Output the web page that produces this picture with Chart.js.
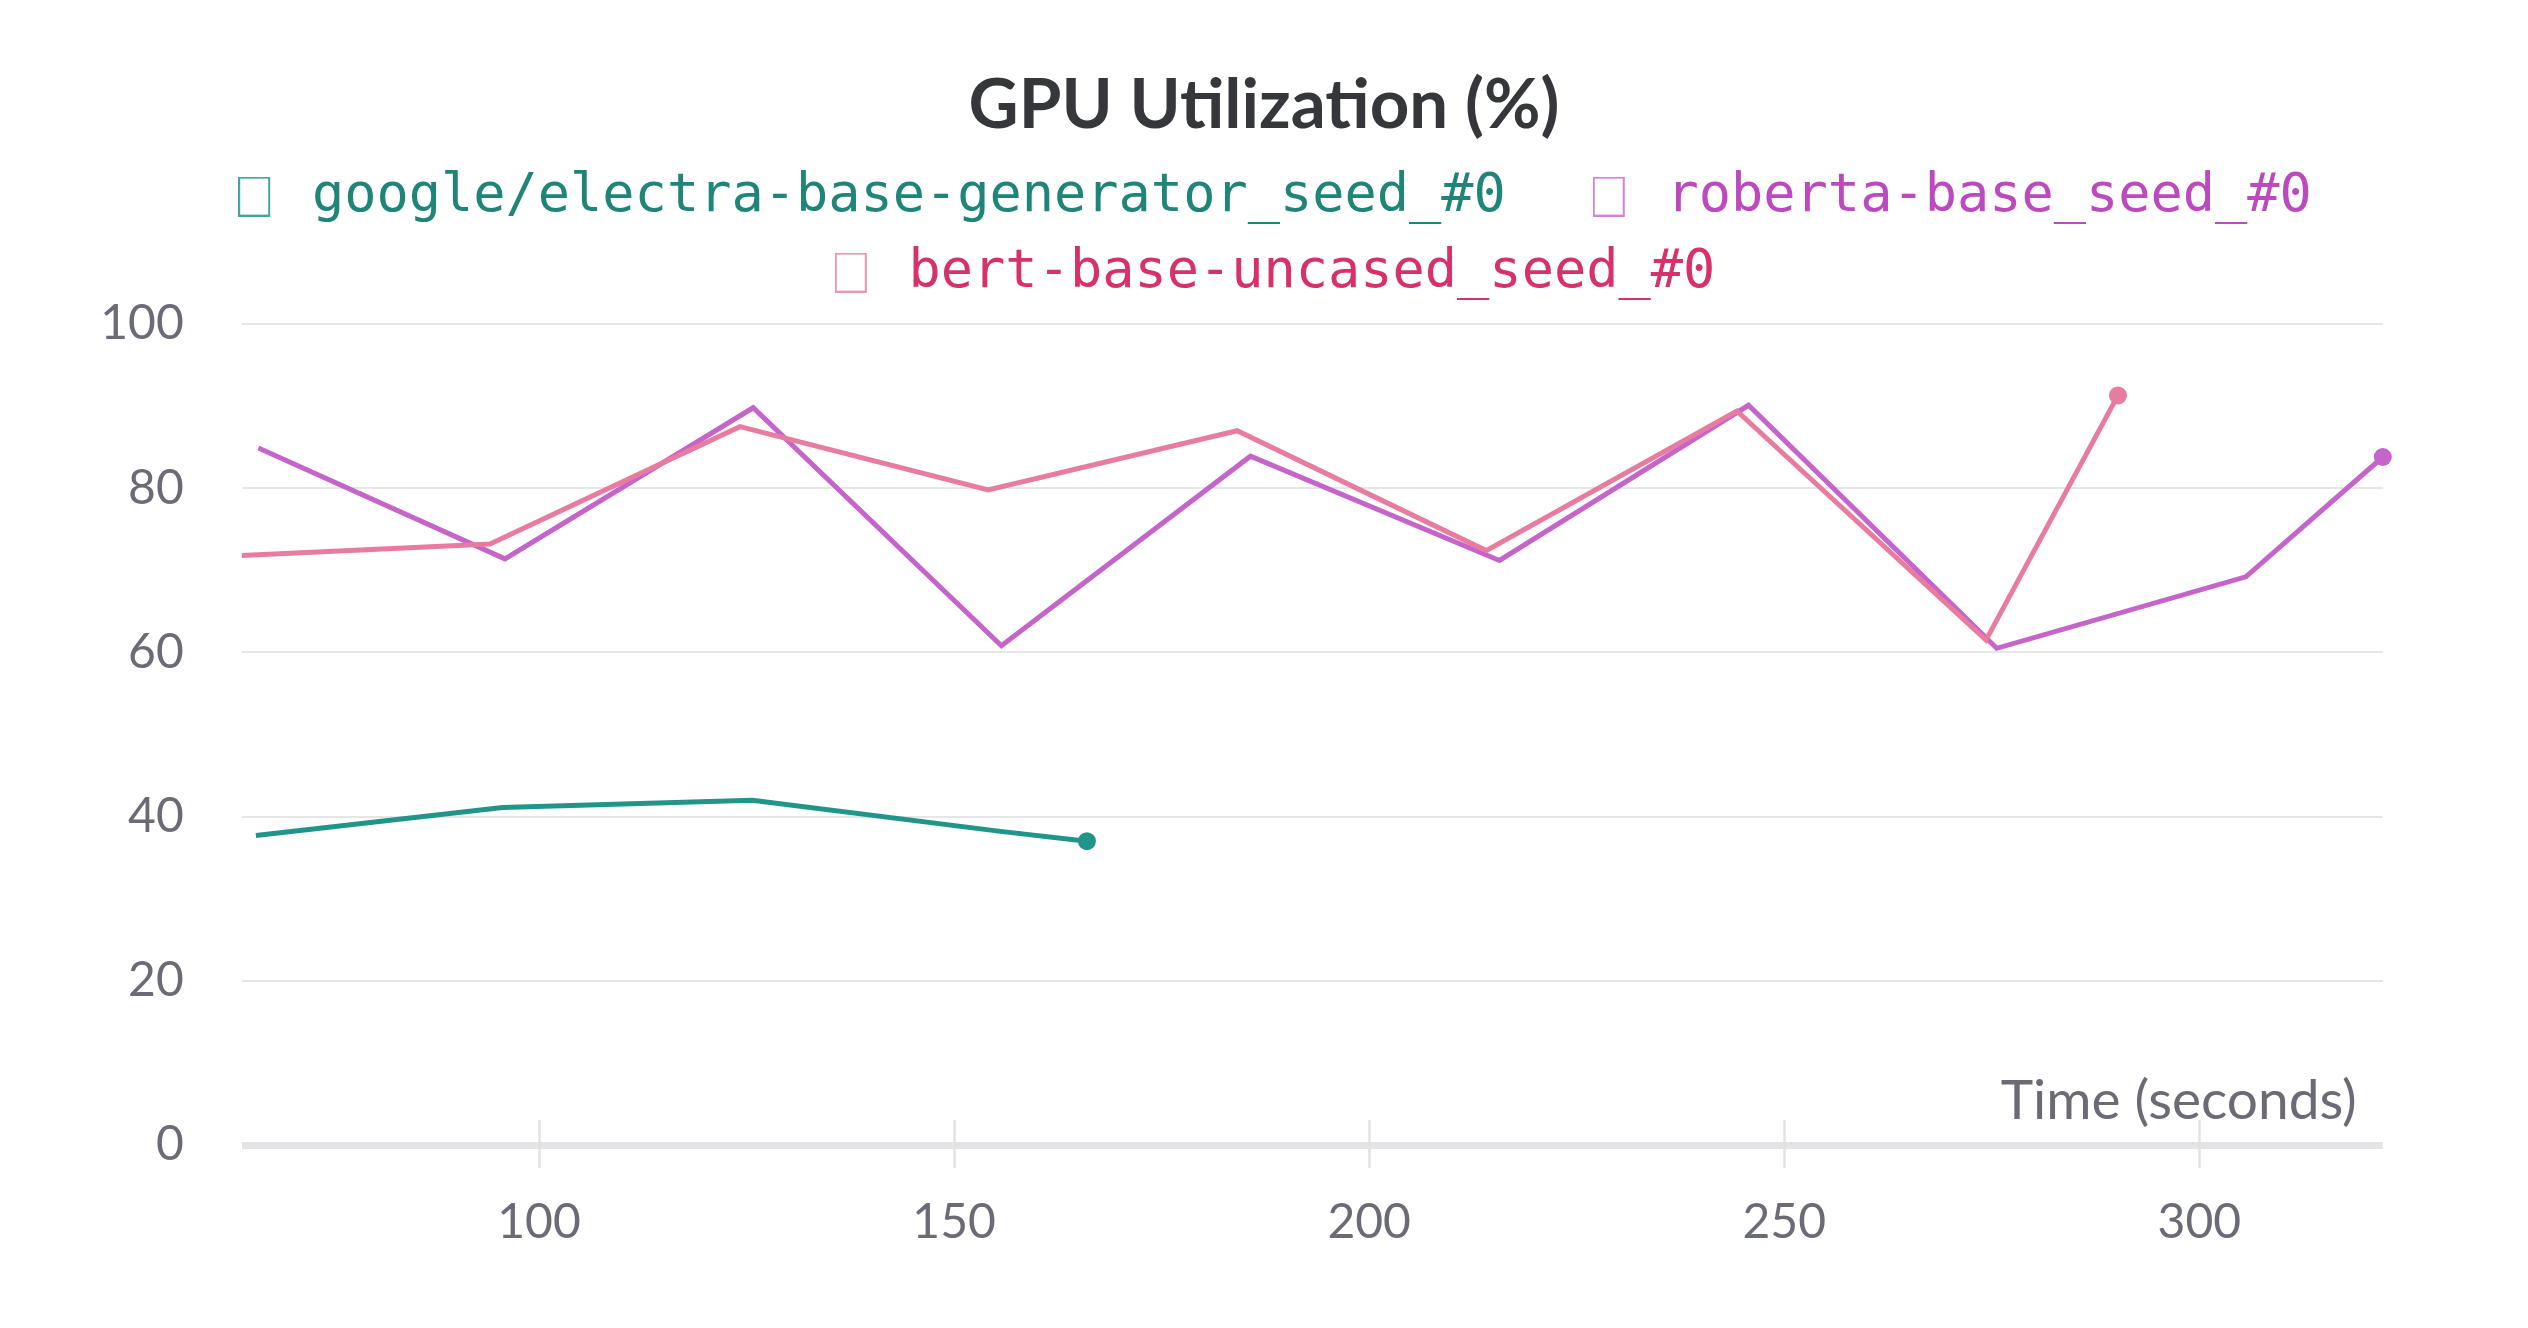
<!DOCTYPE html>
<html>
<head>
<meta charset="utf-8">
<script src="https://cdn.jsdelivr.net/npm/chart.js@4.4.1/dist/chart.umd.min.js"></script>
<style>
html,body{margin:0;padding:0;background:#fff;overflow:hidden}
#wrap{width:2528px;height:1328px}
</style>
</head>
<body>
<div id="wrap"><canvas id="c" width="2528" height="1328"></canvas></div>
<script>
// ---- data ----
const chartTitle = 'GPU Utilization (%)';
const xAxisLabel = 'Time (seconds)';
const seriesNames = ['google/electra-base-generator_seed_#0', 'roberta-base_seed_#0', 'bert-base-uncased_seed_#0'];

const electraTime = [65.9, 95.6, 125.7, 155.6, 166.0];
const electraUtil = [37.7, 41.1, 42.0, 38.2, 37.0];

const robertaTime = [66.2, 95.9, 125.8, 155.7, 185.7, 215.7, 245.7, 275.6, 305.6, 322.1];
const robertaUtil = [84.9, 71.4, 89.8, 60.8, 83.9, 71.2, 90.1, 60.5, 69.2, 83.8];

const bertTime = [64.2, 94.1, 124.2, 154.1, 184.1, 214.1, 244.3, 274.3, 290.2];
const bertUtil = [71.8, 73.2, 87.5, 79.8, 87.0, 72.4, 89.4, 61.5, 91.3];

const xTickValues = [100, 150, 200, 250, 300];
const yTickValues = [0, 20, 40, 60, 80, 100];

// ---- styles ----
const lineColors = ['#22958a', '#c564c9', '#e87ba0'];
const textColors = ['#1f8577', '#bd49bf', '#d8306a'];
const boxColors = ['rgba(34,149,138,0.85)', 'rgba(197,100,201,0.8)', 'rgba(232,123,160,0.8)'];
const tickColor = '#6b6b76';

function toPoints(xs, ys) { return xs.map((x, i) => ({x: x, y: ys[i]})); }
function lastDot(n) { return ctx => (ctx.dataIndex === n - 1 ? 9 : 0); }

function makeBox(color) {
  const c = document.createElement('canvas');
  c.width = 47; c.height = 40;
  const g = c.getContext('2d');
  g.strokeStyle = color; g.lineWidth = 2;
  g.strokeRect(1, 1, 30, 38);
  return c;
}
const legendBoxes = boxColors.map(makeBox);

const allX = electraTime.concat(robertaTime, bertTime);
const xMin = Math.min(...allX), xMax = Math.max(...allX);

const titleSize = 69;
const titleLine = titleSize * 1.2;
const titlePadTop = 106 - titleLine / 2;
const titlePadBottom = 0;
const chartTop = 324;
const chartBottom = 1145;

const layoutFix = {
  id: 'layoutFix',
  beforeLayout(chart) {
    const lg = chart.legend;
    if (lg && !lg._fixed) {
      const f = lg.fit;
      lg.fit = function () { f.call(this); this.height = chartTop - (titlePadTop + titleLine + titlePadBottom); };
      lg._fixed = true;
    }
  },
  afterLayout(chart) {
    const t = chart.titleBlock, lg = chart.legend;
    if (t) { t.left = 0; t.right = chart.width; t.width = chart.width; }
    if (lg) { lg.left = 22; lg.right = chart.width; lg.width = chart.width - 22; }
  }
};

const axisDecor = {
  id: 'axisDecor',
  beforeDatasetsDraw(chart) {
    const xs = chart.scales.x, ca = chart.chartArea, g = chart.ctx;
    g.save();
    g.strokeStyle = '#e2e2e5';
    g.lineWidth = 2.5;
    xTickValues.forEach(v => {
      const px = Math.round(xs.getPixelForValue(v)) + 0.5;
      g.beginPath(); g.moveTo(px, ca.bottom - 25); g.lineTo(px, ca.bottom + 23); g.stroke();
    });
    g.restore();
  },
  afterDraw(chart) {
    const ca = chart.chartArea, g = chart.ctx;
    g.save();
    g.font = '55px Lato';
    g.fillStyle = tickColor;
    g.textAlign = 'right';
    g.textBaseline = 'alphabetic';
    g.fillText(xAxisLabel, ca.right - 26, ca.bottom - 26);
    g.restore();
  }
};

new Chart(document.getElementById('c'), {
  type: 'line',
  data: {
    datasets: [
      { label: seriesNames[0], data: toPoints(electraTime, electraUtil), borderColor: lineColors[0], backgroundColor: lineColors[0],
        pointRadius: lastDot(electraTime.length), pointBorderWidth: 0, borderWidth: 5, order: 0, clip: false },
      { label: seriesNames[1], data: toPoints(robertaTime, robertaUtil), borderColor: lineColors[1], backgroundColor: lineColors[1],
        pointRadius: lastDot(robertaTime.length), pointBorderWidth: 0, borderWidth: 5, order: 2, clip: false },
      { label: seriesNames[2], data: toPoints(bertTime, bertUtil), borderColor: lineColors[2], backgroundColor: lineColors[2],
        pointRadius: lastDot(bertTime.length), pointBorderWidth: 0, borderWidth: 5, order: 1, clip: false }
    ]
  },
  options: {
    responsive: false,
    animation: false,
    events: [],
    devicePixelRatio: 1,
    layout: { padding: { top: 0, left: 0, right: 2528 - 2382.8, bottom: 0 } },
    elements: { line: { tension: 0, borderJoinStyle: 'miter' } },
    plugins: {
      tooltip: { enabled: false },
      title: {
        display: true, text: chartTitle, color: '#35373b',
        font: { family: 'Lato', size: titleSize, weight: 'bold', lineHeight: 1.2 },
        padding: { top: titlePadTop, bottom: titlePadBottom }
      },
      legend: {
        display: true, position: 'top', align: 'center',
        labels: {
          font: { family: 'DejaVu Sans Mono', size: 53.6 },
          padding: 22.4,
          usePointStyle: true,
          pointStyleWidth: 47,
          generateLabels: chart => chart.data.datasets.map((ds, i) => ({
            text: seriesNames[i] + (i === 0 ? '  ' : ''),
            fontColor: textColors[i],
            pointStyle: legendBoxes[i],
            fillStyle: 'transparent', strokeStyle: boxColors[i], lineWidth: 0,
            hidden: false, datasetIndex: i
          }))
        }
      }
    },
    scales: {
      x: {
        type: 'linear', min: xMin, max: xMax,
        afterBuildTicks: s => { s.ticks = xTickValues.map(v => ({ value: v })); },
        afterFit: s => { s.height = 1328 - chartBottom; },
        grid: { display: false, drawTicks: false },
        border: { display: false },
        ticks: { color: tickColor, font: { family: 'Lato', size: 48 }, padding: 49, maxRotation: 0 }
      },
      y: {
        type: 'linear', min: 0, max: 100,
        afterBuildTicks: s => { s.ticks = yTickValues.map(v => ({ value: v })); },
        afterFit: s => { s.width = 241.8; },
        grid: {
          color: ctx => (ctx.tick && ctx.tick.value === 0 ? '#e4e4e7' : '#e6e6e6'),
          lineWidth: ctx => (ctx.tick && ctx.tick.value === 0 ? 7 : 2),
          drawTicks: false
        },
        border: { display: false },
        ticks: { color: tickColor, font: { family: 'Lato', size: 48 }, padding: 58 }
      }
    }
  },
  plugins: [layoutFix, axisDecor]
});
</script>
</body>
</html>
